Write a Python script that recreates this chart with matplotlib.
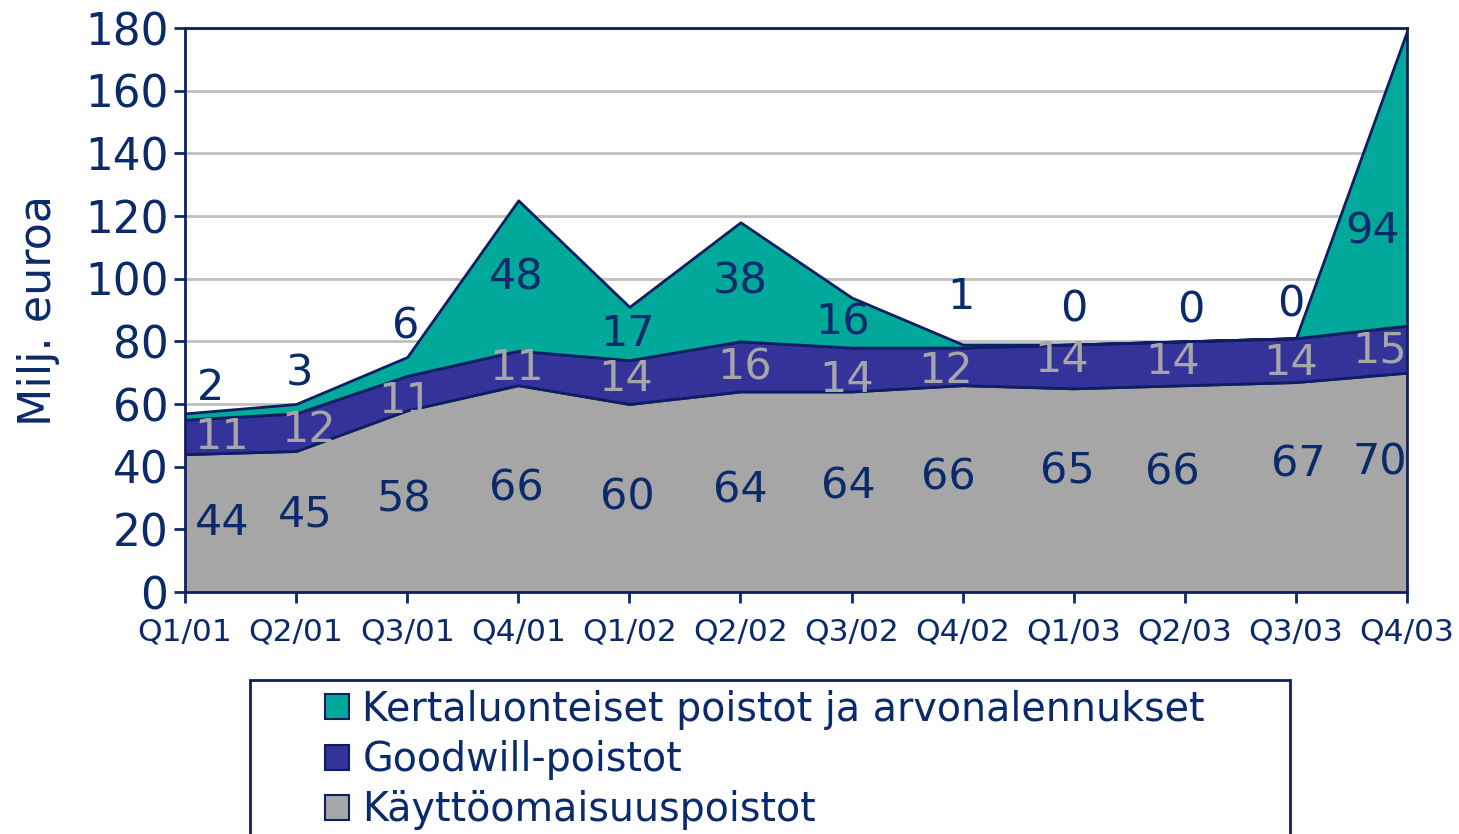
import numpy as np
import matplotlib
matplotlib.use("Agg")
from matplotlib import pyplot as plt
from matplotlib.patches import Patch, Rectangle

quarters = ["Q1/01", "Q2/01", "Q3/01", "Q4/01", "Q1/02", "Q2/02",
            "Q3/02", "Q4/02", "Q1/03", "Q2/03", "Q3/03", "Q4/03"]
kayttoomaisuus = [44, 45, 58, 66, 60, 64, 64, 66, 65, 66, 67, 70]
goodwill = [11, 12, 11, 11, 14, 16, 14, 12, 14, 14, 14, 15]
kertaluonteiset = [2, 3, 6, 48, 17, 38, 16, 1, 0, 0, 0, 94]

series_names = ["Kertaluonteiset poistot ja arvonalennukset",
                "Goodwill-poistot",
                "Käyttöomaisuuspoistot"]

# label placement (layout only), y in data units, x shift in pixels
base_label_y = [22, 24.6, 29.4, 32.9, 30.3, 32.5, 33.8, 36.7, 38.3, 38, 40.8, 41.2]
gw_label_y = [49.5, 51.7, 61, 71.5, 68, 71.5, 67.7, 70.5, 74, 73.5, 73, 77]
top_label_y = [65, 69.6, 84.6, 100.5, 82.3, 99, 86, 94, 90, 89.7, 91.6, 115]
base_dx = [37, 9, -3, -2, -2, 0, -3, -14, -6, -12, 2, -27]
gw_dx = [37, 12, -2, -2, -4, 4, -5, -17, -12, -12, -5, -27]
top_dx = [25, 3, -1, -2, -2, 0, -9, -2, 0, 6, -5, -34]

NAVY = "#0B2A6B"
EDGE = "#0E1E63"
TEAL = "#00A99A"
BLUE = "#333399"
GREY = "#A6A6A6"

plt.rcParams["font.family"] = ["DejaVu Sans"]

fig = plt.figure(figsize=(14.59, 8.34), dpi=100)
ax = fig.add_axes([185 / 1459, 1 - 592 / 834, (1407 - 185) / 1459, (592 - 28) / 834])

x = np.arange(len(quarters))
b = np.array(kayttoomaisuus, dtype=float)
g = np.array(goodwill, dtype=float)
k = np.array(kertaluonteiset, dtype=float)

ax.fill_between(x, 0, b, facecolor=GREY, edgecolor=EDGE, linewidth=2, zorder=3)
ax.fill_between(x, b, b + g, facecolor=BLUE, edgecolor=EDGE, linewidth=2, zorder=3)
ax.fill_between(x, b + g, b + g + k, facecolor=TEAL, edgecolor=EDGE, linewidth=2, zorder=3)

ax.set_xlim(0, len(quarters) - 1)
ax.set_ylim(0, 180)
ax.set_yticks(range(0, 181, 20))
ax.set_xticks(x)
ax.set_xticklabels(quarters)
ax.yaxis.grid(True, color="#C0C0C0", linewidth=2)
ax.set_axisbelow(True)

for s in ax.spines.values():
    s.set_color(EDGE)
    s.set_linewidth(2)
ax.tick_params(axis="y", colors=NAVY, labelsize=31.5, length=8, width=2, direction="out", pad=4)
ax.tick_params(axis="x", colors=NAVY, labelsize=22.5, length=8, width=2, direction="out", pad=10)
ax.set_ylabel("Milj. euroa", fontsize=32, color=NAVY, labelpad=18)

for i in range(len(quarters)):
    ax.annotate(str(kayttoomaisuus[i]), (x[i], base_label_y[i]), xytext=(base_dx[i], 0),
                textcoords="offset pixels", ha="center", va="center",
                fontsize=31, color=NAVY, zorder=5)
    ax.annotate(str(goodwill[i]), (x[i], gw_label_y[i]), xytext=(gw_dx[i], 0),
                textcoords="offset pixels", ha="center", va="center",
                fontsize=31, color=GREY, zorder=5)
    ax.annotate(str(kertaluonteiset[i]), (x[i], top_label_y[i]), xytext=(top_dx[i], 0),
                textcoords="offset pixels", ha="center", va="center",
                fontsize=31, color=NAVY, zorder=5)

# legend box, bottom edge runs off the canvas
fig.patches.append(Rectangle((250 / 1459, -0.05), (1290 - 250) / 1459, 1 - 680 / 834 + 0.05,
                             transform=fig.transFigure, facecolor="white",
                             edgecolor=EDGE, linewidth=2))
handles = [Patch(facecolor=TEAL, edgecolor=EDGE, linewidth=1.5),
           Patch(facecolor=BLUE, edgecolor=EDGE, linewidth=1.5),
           Patch(facecolor=GREY, edgecolor=EDGE, linewidth=1.5)]
leg = fig.legend(handles, series_names, loc="upper left",
                 bbox_to_anchor=(305 / 1459, 1 - 670 / 834), frameon=False,
                 fontsize=28.5, handlelength=0.6, handleheight=0.6,
                 handletextpad=0.35, labelspacing=0.26, borderpad=0)
for t in leg.get_texts():
    t.set_color(NAVY)

fig.savefig("out.png", dpi=100)
